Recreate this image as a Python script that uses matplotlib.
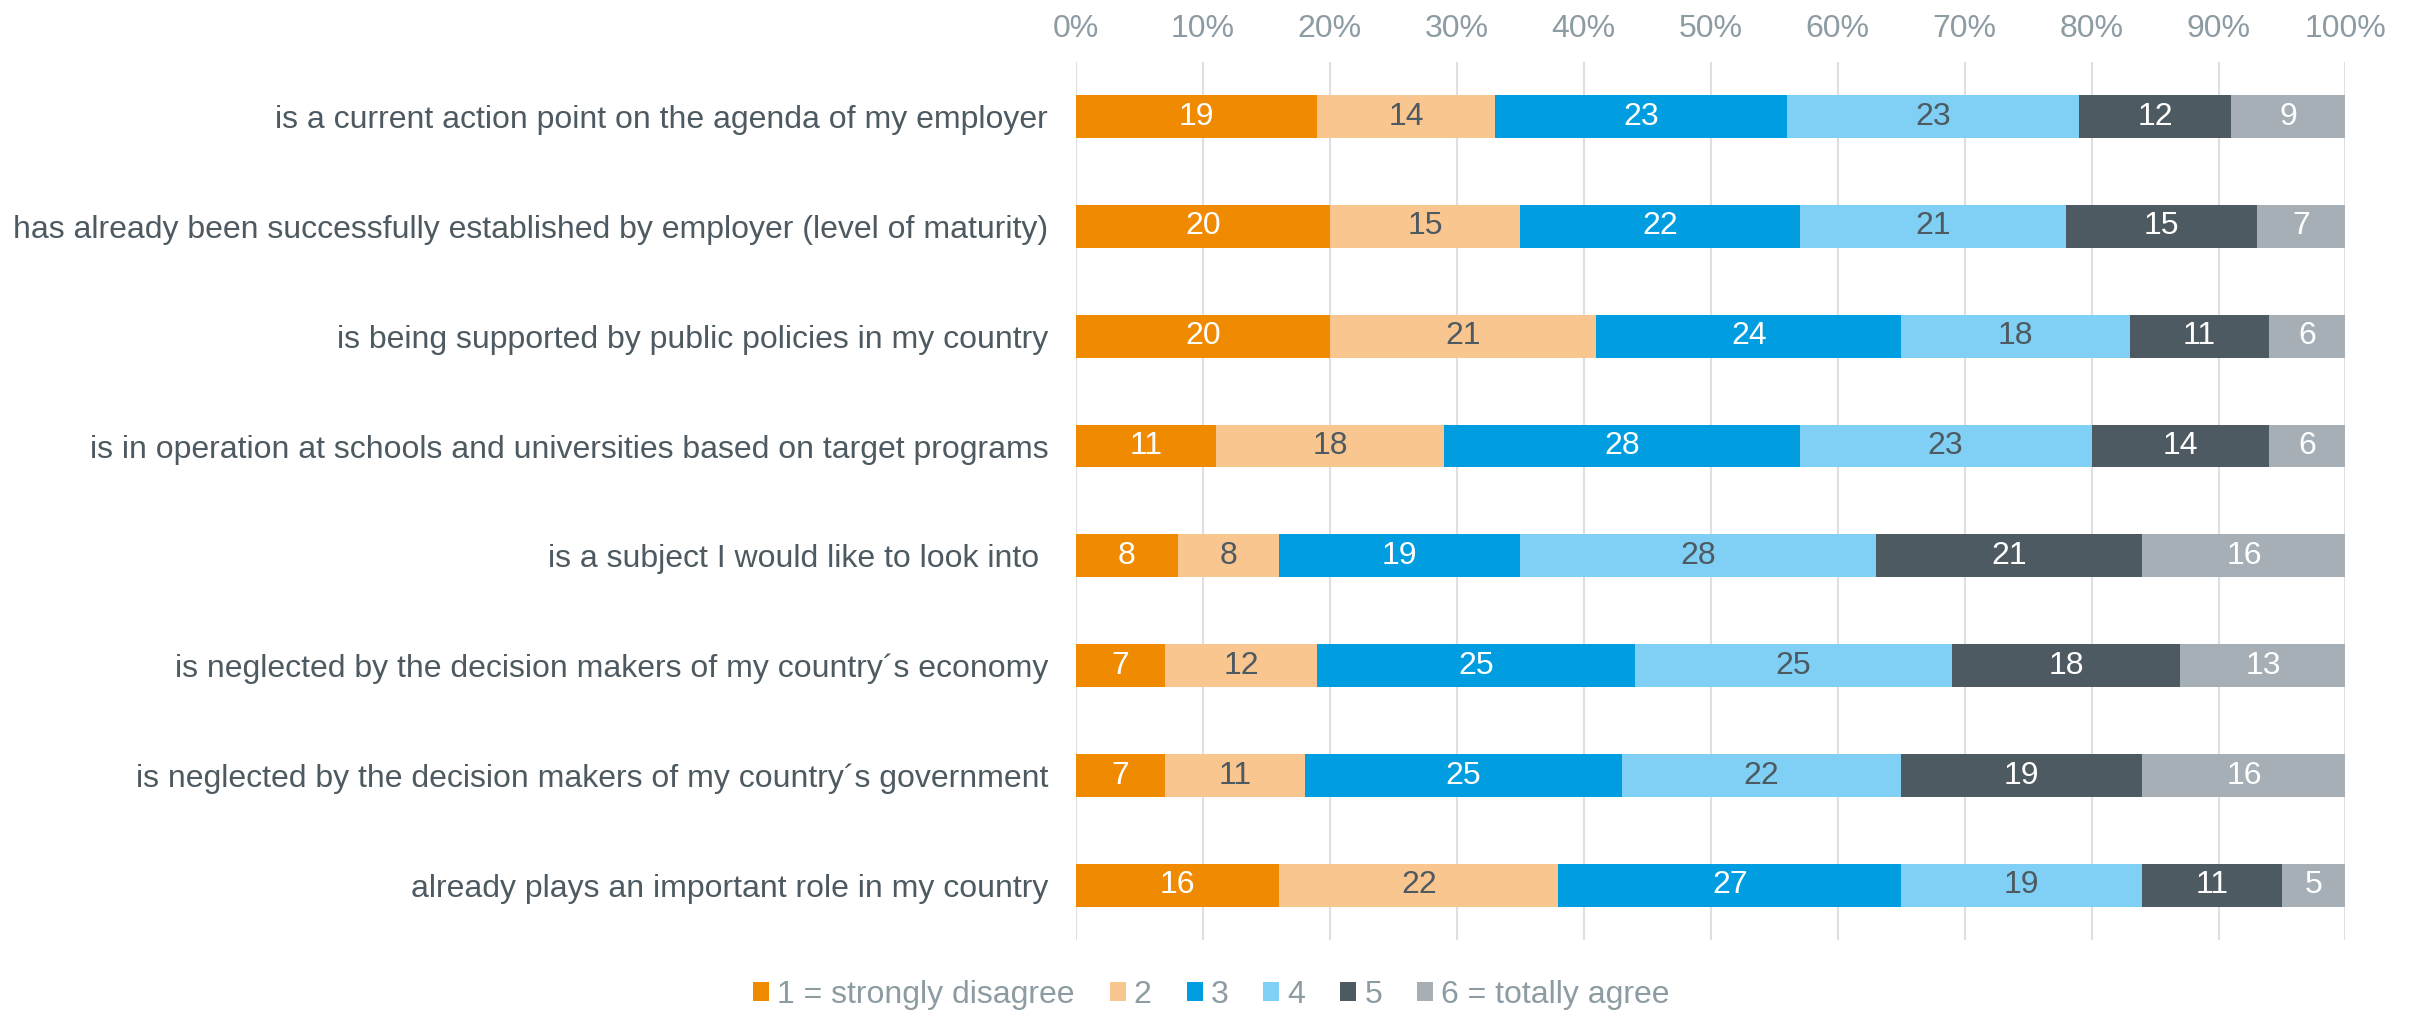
import matplotlib
matplotlib.use("Agg")

import matplotlib.pyplot as plt
from matplotlib.patches import Patch
from matplotlib.ticker import FuncFormatter

plt.rcParams["font.family"] = ["Liberation Sans", "DejaVu Sans"]

# ==============================
# DATA
# ==============================
categories = [
    "is a current action point on the agenda of my employer",
    "has already been successfully established by employer (level of maturity)",
    "is being supported by public policies in my country",
    "is in operation at schools and universities based on target programs",
    "is a subject I would like to look into ",
    "is neglected by the decision makers of my country\u00b4s economy",
    "is neglected by the decision makers of my country\u00b4s government",
    "already plays an important role in my country",
]
series_names = ["1 = strongly disagree", "2", "3", "4", "5", "6 = totally agree"]
s1 = [19, 20, 20, 11, 8, 7, 7, 16]
s2 = [14, 15, 21, 18, 8, 12, 11, 22]
s3 = [23, 22, 24, 28, 19, 25, 25, 27]
s4 = [23, 21, 18, 23, 28, 25, 22, 19]
s5 = [12, 15, 11, 14, 21, 18, 19, 11]
s6 = [9, 7, 6, 6, 16, 13, 16, 5]
series = [s1, s2, s3, s4, s5, s6]

colors = ["#F08A00", "#FAC68F", "#009EE0", "#80CFF4", "#4E5A61", "#A5AFB5"]
label_colors = ["white", "#4E5A61", "white", "#4E5A61", "white", "white"]
TEXT = "#4E5A61"
TICK = "#8D9BA3"
FS = 23

fig = plt.figure(figsize=(24.18, 10.11), dpi=100)
ax = fig.add_axes([0.445, 0.070, 0.525, 0.869])

ypos = list(range(len(categories)))
left = [0] * len(categories)
for vals, name, col, lcol in zip(series, series_names, colors, label_colors):
    bars = ax.barh(ypos, vals, left=left, height=0.39, color=col,
                   label=name, zorder=3)
    for b, v in zip(bars, vals):
        ax.text(b.get_x() + b.get_width() / 2, b.get_y() + b.get_height() / 2,
                str(v), ha="center", va="center", color=lcol, fontsize=FS,
                zorder=4)
    left = [a + b for a, b in zip(left, vals)]

# ==============================
# AXES
# ==============================
ax.set_xlim(0, 100)
ax.set_ylim(len(categories) - 0.5, -0.5)
ax.set_xticks(range(0, 101, 10))
ax.xaxis.set_major_formatter(FuncFormatter(lambda v, p: f"{v:.0f}%"))
ax.xaxis.tick_top()
ax.tick_params(axis="x", length=0, pad=13, labelsize=FS, labelcolor=TICK)
ax.set_yticks(ypos)
ax.set_yticklabels(categories, fontsize=FS, color=TEXT)
ax.tick_params(axis="y", length=0, pad=20)
ax.grid(axis="x", color="#DDDFE1", linewidth=1.5, zorder=0)
for sp in ax.spines.values():
    sp.set_visible(False)

handles = [Patch(facecolor=c, edgecolor="none") for c in colors]
leg = fig.legend(handles, series_names, loc="center", ncol=6,
                 bbox_to_anchor=(0.501, 0.016), frameon=False, fontsize=FS,
                 handlelength=0.5, handleheight=0.5, handletextpad=0.25,
                 columnspacing=1.1)
for t in leg.get_texts():
    t.set_color(TICK)

plt.savefig("out.png", dpi=100)
plt.close()
